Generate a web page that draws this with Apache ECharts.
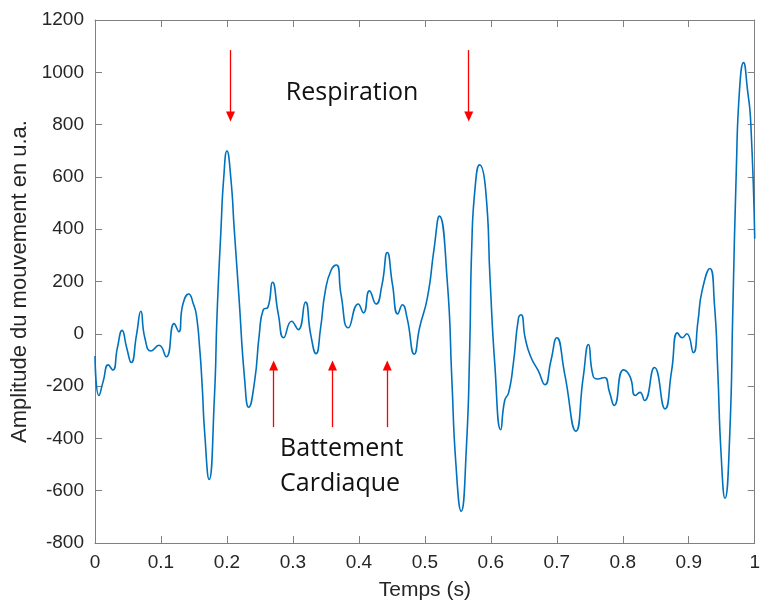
<!DOCTYPE html>
<html>
<head>
<meta charset="utf-8">
<script src="https://cdn.jsdelivr.net/npm/echarts@6/dist/echarts.min.js"></script>
<style>html,body{margin:0;padding:0;background:#fff}#c{width:763px;height:606px}</style>
</head>
<body>
<div id="c"></div>
<script>
// Time (s)
var timeValues = [0, 0.006, 0.0126, 0.020, 0.027, 0.034, 0.041, 0.048, 0.055, 0.063, 0.0695, 0.0755, 0.085, 0.097, 0.108, 0.120, 0.127, 0.133, 0.142, 0.1495, 0.1536, 0.1586, 0.1626, 0.166, 0.173, 0.181, 0.185, 0.191, 0.195, 0.200, 0.206, 0.211, 0.218, 0.227, 0.233, 0.242, 0.249, 0.255, 0.262, 0.269, 0.278, 0.286, 0.298, 0.308, 0.319, 0.327, 0.335, 0.342, 0.349, 0.358, 0.366, 0.373, 0.384, 0.399, 0.407, 0.416, 0.426, 0.435, 0.443, 0.451, 0.459, 0.466, 0.473, 0.484, 0.492, 0.504, 0.514, 0.522, 0.534, 0.541, 0.547, 0.555, 0.563, 0.568, 0.571, 0.576, 0.583, 0.592, 0.599, 0.606, 0.615, 0.621, 0.627, 0.634, 0.642, 0.646, 0.652, 0.660, 0.672, 0.682, 0.691, 0.700, 0.712, 0.729, 0.740, 0.748, 0.755, 0.762, 0.772, 0.780, 0.787, 0.801, 0.811, 0.819, 0.826, 0.833, 0.848, 0.864, 0.874, 0.883, 0.890, 0.897, 0.907, 0.914, 0.920, 0.932, 0.939, 0.944, 0.949, 0.955, 0.962, 0.967, 0.972, 0.977, 0.983, 0.989, 0.994, 1.0];
// Amplitude (u.a.)
var amplitudeValues = [-85, -236, -180, -119, -139, -53, 13, -53, -110, -3, 86, -15, -66, -44, -88, 39, 8, 111, 152, 111, 73, -53, -205, -369, -557, -243, 73, 402, 592, 699, 592, 402, 149, -180, -281, -180, -3, 92, 101, 197, 73, -15, 48, 16, 121, -3, -76, 23, 162, 244, 263, 149, 23, 114, 80, 164, 114, 187, 311, 187, 76, 111, 61, -78, 23, 140, 326, 450, 200, -180, -496, -679, -433, -53, 326, 554, 646, 554, 200, -116, -367, -255, -225, -116, 61, 73, -15, -85, -142, -195, -104, -15, -154, -372, -167, -41, -161, -173, -167, -224, -274, -138, -164, -236, -224, -255, -129, -287, -142, 4, -15, 0, -72, 48, 162, 250, 111, -142, -458, -629, -395, 111, 617, 934, 1037, 934, 807, 364];
// Tick settings
var xTickValues = [0, 0.1, 0.2, 0.3, 0.4, 0.5, 0.6, 0.7, 0.8, 0.9, 1];
var yTickValues = [-800, -600, -400, -200, 0, 200, 400, 600, 800, 1000, 1200];
// Annotations (data coordinates)
var respirationArrowsX = [0.2054, 0.5665];
var respirationArrowY = [1085, 831];
var cardiacArrowsX = [0.2708, 0.360, 0.443];
var cardiacArrowY = [-357, -121];
var respirationLabel = {text: 'Respiration', x: 0.3897, y: 922};
var cardiacLabel = {text: 'Battement\nCardiaque', x: 0.2806, y: -508};

var chart = echarts.init(document.getElementById('c'), null, {renderer: 'canvas'});
var axisColor = '#808080';
var labelColor = '#262626';
var tickFont = 'Liberation Sans, Arial, sans-serif';

var arrowLines = [];
respirationArrowsX.forEach(function (x) {
  arrowLines.push([{coord: [x, respirationArrowY[0]]}, {coord: [x, respirationArrowY[1]]}]);
});
cardiacArrowsX.forEach(function (x) {
  arrowLines.push([{coord: [x, cardiacArrowY[0]]}, {coord: [x, cardiacArrowY[1]]}]);
});

var lineData = timeValues.map(function (t, i) { return [t, amplitudeValues[i]]; });

var commonAxisLine = {show: true, onZero: false, lineStyle: {color: axisColor, width: 1}};
var commonTick = {show: true, inside: true, length: 7, lineStyle: {color: axisColor}};
var option = {
  animation: false,
  backgroundColor: '#ffffff',
  grid: {left: 95, right: 6, top: 20, bottom: 59, containLabel: false},
  xAxis: [{
    type: 'value', min: xTickValues[0], max: xTickValues[xTickValues.length - 1], interval: 0.1,
    position: 'bottom',
    name: 'Temps (s)', nameLocation: 'middle', nameGap: 37,
    nameTextStyle: {fontFamily: tickFont, fontSize: 21, color: labelColor},
    axisLine: commonAxisLine,
    axisTick: commonTick,
    axisLabel: {fontFamily: tickFont, fontSize: 19, color: labelColor, margin: 10,
      formatter: function (v) { return String(Math.round(v * 10) / 10); }},
    splitLine: {show: false}
  }, {
    type: 'value', min: xTickValues[0], max: xTickValues[xTickValues.length - 1], interval: 0.1,
    position: 'top',
    axisLine: commonAxisLine,
    axisTick: commonTick,
    axisLabel: {show: false},
    splitLine: {show: false}
  }],
  yAxis: [{
    type: 'value', min: yTickValues[0], max: yTickValues[yTickValues.length - 1], interval: 200,
    position: 'left',
    name: 'Amplitude du mouvement en u.a.', nameLocation: 'middle', nameGap: 64, nameRotate: 90,
    nameTextStyle: {fontFamily: tickFont, fontSize: 22, color: labelColor},
    axisLine: commonAxisLine,
    axisTick: commonTick,
    axisLabel: {fontFamily: tickFont, fontSize: 19, color: labelColor, margin: 11,
      formatter: function (v) { return String(v); }},
    splitLine: {show: false}
  }, {
    type: 'value', min: yTickValues[0], max: yTickValues[yTickValues.length - 1], interval: 200,
    position: 'right',
    axisLine: commonAxisLine,
    axisTick: commonTick,
    axisLabel: {show: false},
    splitLine: {show: false}
  }],
  series: [{
    type: 'line',
    data: lineData,
    smooth: 0.55,
    showSymbol: false,
    symbol: 'none',
    clip: true,
    lineStyle: {color: '#0072BD', width: 1.6},
    markLine: {
      silent: true,
      symbol: ['none', 'triangle'],
      symbolSize: [9, 10],
      label: {show: false},
      lineStyle: {color: '#ff0000', width: 1.3, type: 'solid'},
      data: arrowLines
    },
    markPoint: {
      silent: true,
      symbol: 'rect', symbolSize: 1,
      itemStyle: {color: 'rgba(0,0,0,0)'},
      data: [
        {coord: [respirationLabel.x, respirationLabel.y],
         label: {show: true, formatter: respirationLabel.text, position: 'inside',
           fontFamily: 'Open Sans, sans-serif', fontSize: 25, color: '#111', align: 'center', verticalAlign: 'middle'}},
        {coord: [cardiacLabel.x, cardiacLabel.y],
         label: {show: true, formatter: cardiacLabel.text, position: 'inside', lineHeight: 35,
           fontFamily: 'Open Sans, sans-serif', fontSize: 25, color: '#111', align: 'left', verticalAlign: 'middle'}}
      ]
    }
  }]
};
chart.setOption(option);
</script>
</body>
</html>
